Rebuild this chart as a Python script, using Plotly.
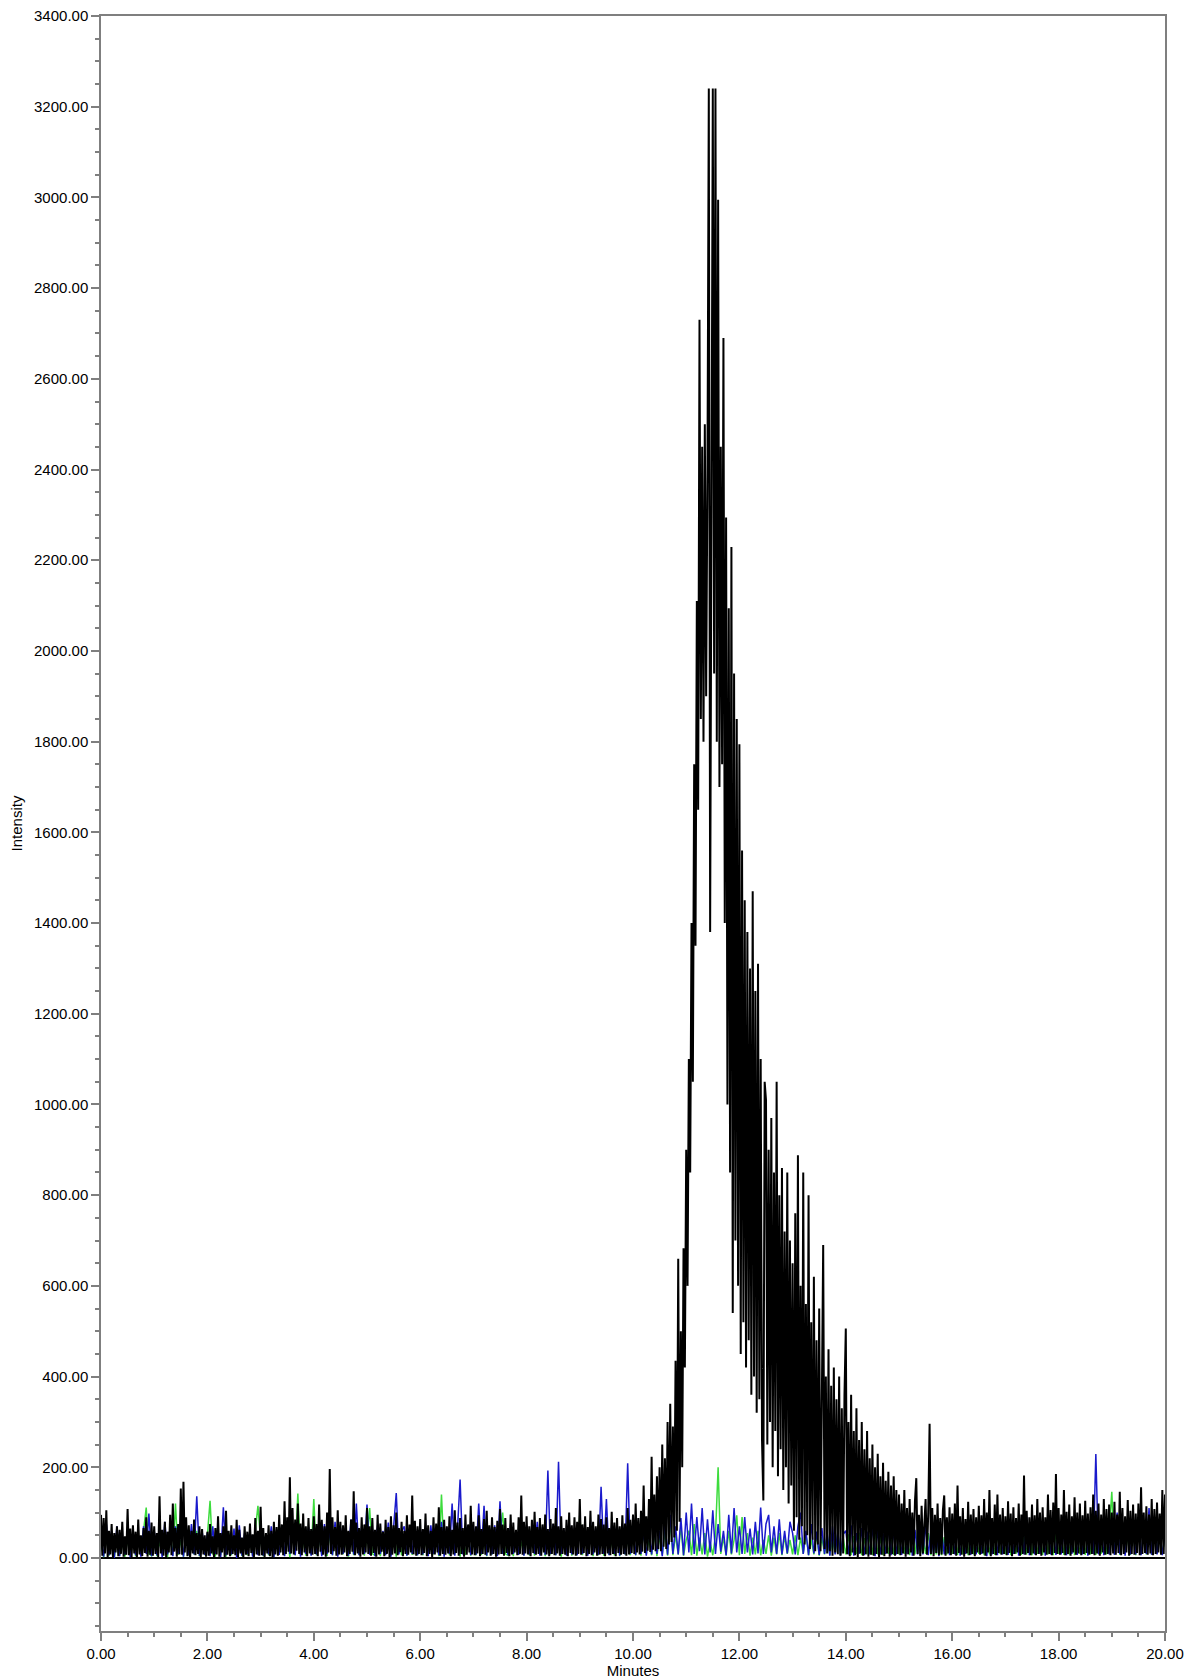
import plotly.graph_objects as go

# Chromatogram traces, intensities
black_step = 0.025  # minutes between black samples
black_intensity = [
    95, 5, 88, 10, 105, 2, 60, 8, 75, 0, 55, 12, 70, 4, 62, 9, 80, 3, 48, 7,               # 0.0
    108, 6, 65, 2, 72, 10, 58, 0, 85, 8, 50, 4, 66, 11, 90, 3, 60, 7, 78, 5,               # 0.5
    70, 9, 55, 2, 136, 10, 62, 5, 80, 0, 58, 12, 95, 6, 120, 14, 66, 3, 75, 8,             # 1.0
    153, 7, 168, 12, 90, 4, 72, 0, 60, 10, 85, 6, 55, 9, 70, 2, 64, 8, 50, 3,              # 1.5
    58, 5, 75, 10, 48, 0, 66, 8, 92, 3, 55, 12, 70, 2, 104, 7, 60, 4, 72, 9,               # 2.0
    50, 6, 84, 2, 62, 10, 45, 0, 70, 7, 58, 4, 76, 11, 52, 2, 88, 8, 60, 5,                # 2.5
    113, 6, 66, 2, 55, 10, 72, 4, 60, 0, 80, 8, 68, 5, 95, 12, 74, 6, 125, 9,              # 3.0
    90, 14, 178, 10, 110, 8, 85, 16, 120, 9, 76, 6, 98, 12, 70, 4, 88, 10, 64, 7,          # 3.5
    92, 9, 75, 4, 118, 14, 84, 7, 70, 3, 100, 12, 196, 9, 90, 15, 68, 5, 105, 8,           # 4.0
    80, 7, 72, 12, 94, 4, 60, 9, 85, 14, 147, 6, 78, 10, 66, 3, 90, 8, 74, 12,             # 4.5
    110, 9, 70, 5, 88, 11, 62, 3, 95, 8, 76, 14, 58, 4, 84, 9, 68, 0, 92, 7,               # 5.0
    72, 10, 100, 6, 66, 13, 80, 4, 60, 9, 94, 7, 74, 12, 138, 8, 82, 5, 70, 9,             # 5.5
    86, 6, 64, 11, 98, 4, 72, 9, 60, 2, 90, 8, 76, 12, 112, 5, 68, 9, 84, 7,               # 6.0
    70, 10, 92, 4, 62, 8, 105, 11, 78, 5, 88, 9, 66, 3, 96, 7, 74, 12, 115, 8,             # 6.5
    80, 6, 70, 10, 94, 4, 64, 9, 86, 7, 104, 12, 72, 5, 90, 9, 68, 3, 82, 8,               # 7.0
    108, 9, 74, 5, 88, 11, 66, 4, 96, 8, 78, 12, 62, 6, 90, 9, 138, 7, 80, 10,             # 7.5
    92, 8, 70, 4, 84, 11, 102, 7, 68, 9, 88, 5, 74, 12, 96, 8, 64, 4, 86, 9,               # 8.0
    76, 6, 110, 10, 70, 5, 92, 9, 66, 7, 84, 4, 100, 11, 72, 8, 90, 5, 80, 9,              # 8.5
    130, 7, 74, 11, 92, 4, 68, 9, 104, 6, 80, 12, 70, 5, 96, 8, 86, 9, 74, 4,              # 9.0
    90, 10, 66, 6, 102, 9, 78, 4, 88, 11, 70, 7, 94, 9, 76, 5, 110, 8, 84, 11,             # 9.5
    96, 9, 120, 12, 88, 8, 104, 14, 160, 11, 92, 16, 130, 13, 223, 18, 140, 15, 180, 20,   # 10.0
    200, 15, 250, 25, 220, 20, 300, 30, 340, 35, 290, 45, 435, 60, 660, 80, 500, 200, 683, 420,  # 10.5
    900, 600, 1100, 850, 1400, 1050, 1750, 1350, 2110, 1650, 2730, 1850, 2450, 1800, 2500, 1900, 2400, 3240, 1380, 2550,  # 11.0
    3240, 1950, 3240, 1800, 2995, 1700, 2450, 1750, 2690, 1400, 2294, 1000, 2094, 850, 2229, 540, 1950, 700, 1850, 600,  # 11.5
    1794, 450, 1560, 520, 1450, 420, 1380, 480, 1300, 360, 1470, 400, 1250, 320, 1310, 350, 1100, 260, 127, 1050,  # 12.0
    1010, 250, 900, 300, 970, 200, 850, 280, 1050, 180, 800, 240, 860, 150, 720, 200, 850, 120, 700, 160,  # 12.5
    650, 60, 760, 90, 888, 40, 600, 70, 850, 30, 560, 50, 800, 20, 520, 40, 620, 15, 480, 30,  # 13.0
    550, 15, 430, 690, 20, 400, 10, 460, 15, 380, 5, 420, 12, 350, 8, 400, 5, 330, 10, 360,  # 13.5
    506, 8, 300, 4, 360, 12, 280, 6, 330, 2, 260, 10, 300, 5, 240, 8, 280, 3, 220, 7,       # 14.0
    250, 5, 200, 9, 230, 2, 180, 7, 210, 4, 170, 10, 190, 3, 160, 8, 180, 5, 150, 9,        # 14.5
    140, 6, 120, 10, 150, 3, 110, 8, 130, 12, 100, 5, 125, 176, 9, 95, 4, 115, 10, 90,      # 15.0
    130, 7, 100, 296, 9, 110, 4, 95, 11, 120, 6, 88, 8, 105, 138, 5, 90, 10, 112, 6,        # 15.5
    98, 9, 120, 5, 160, 11, 92, 7, 110, 3, 86, 10, 124, 6, 96, 9, 108, 4, 90, 12,           # 16.0
    115, 7, 94, 10, 130, 5, 100, 12, 150, 4, 88, 9, 118, 6, 140, 11, 96, 7, 110, 9,         # 16.5
    92, 6, 125, 11, 98, 4, 112, 9, 88, 12, 120, 5, 96, 9, 182, 7, 104, 11, 90, 6,           # 17.0
    118, 10, 94, 6, 130, 9, 100, 5, 112, 12, 90, 7, 140, 9, 106, 6, 122, 11, 185, 9,        # 17.5
    110, 7, 96, 11, 150, 6, 102, 9, 118, 5, 92, 12, 134, 7, 100, 10, 120, 6, 94, 9,         # 18.0
    126, 11, 98, 7, 112, 9, 140, 6, 104, 10, 120, 5, 96, 12, 130, 7, 108, 9, 118, 6,        # 18.5
    100, 10, 124, 7, 96, 11, 146, 6, 110, 9, 92, 12, 128, 5, 104, 9, 118, 7, 98, 11,        # 19.0
    120, 6, 156, 9, 100, 11, 114, 7, 96, 10, 130, 6, 108, 9, 122, 12, 98, 7, 150, 9,        # 19.5
    140,                                                                                   # 20.0
]

color_step = 0.05  # minutes between blue / green samples
blue_intensity = [
    40, 3, 75, 6, 60, 0, 70, 4, 50, 8, 65, 2, 55, 6, 45, 3, 70, 9, 98, 4,          # 0
    60, 6, 55, 2, 80, 8, 50, 4, 70, 9, 65, 3, 58, 6, 75, 8, 136, 5, 60, 7,         # 1
    55, 4, 70, 9, 60, 2, 112, 6, 50, 8, 65, 0, 72, 5, 55, 9, 60, 3, 48, 6,         # 2
    62, 5, 50, 8, 70, 2, 58, 7, 66, 4, 80, 9, 55, 6, 72, 3, 60, 9, 68, 5,          # 3
    70, 8, 58, 4, 75, 9, 62, 6, 80, 3, 66, 9, 55, 5, 85, 8, 120, 6, 70, 9,         # 4
    118, 7, 65, 4, 72, 9, 60, 6, 78, 3, 68, 143, 8, 58, 70, 5, 62, 9, 75, 6,       # 5
    66, 8, 58, 4, 72, 9, 60, 6, 80, 3, 68, 9, 120, 5, 62, 173, 8, 70, 55, 6,       # 6
    70, 7, 120, 9, 115, 5, 65, 8, 72, 4, 125, 9, 60, 6, 75, 9, 58, 7, 70, 5,       # 7
    72, 8, 64, 9, 80, 5, 68, 7, 193, 9, 75, 6, 212, 9, 62, 5, 78, 8, 66, 6,        # 8
    70, 9, 62, 5, 80, 8, 66, 7, 157, 9, 130, 6, 72, 9, 64, 5, 76, 8, 209, 9,       # 9
    62, 6, 75, 9, 58, 5, 70, 8, 66, 9, 60, 4, 80, 7, 95, 9, 70, 8, 88, 6,          # 10
    100, 12, 120, 9, 90, 15, 110, 8, 85, 12, 105, 9, 75, 14, 60, 6, 95, 10, 110, 12,  # 11
    70, 9, 90, 12, 65, 8, 80, 10, 111, 9, 75, 95, 12, 70, 9, 85, 8, 60, 10, 80,    # 12
    55, 8, 70, 100, 9, 60, 6, 75, 10, 58, 7, 66, 9, 55, 5, 70, 8, 60, 6, 52,       # 13
    60, 8, 72, 5, 55, 9, 66, 6, 58, 8, 70, 4, 62, 8, 54, 9, 68, 6, 60, 8,          # 14
    65, 7, 58, 9, 70, 5, 62, 8, 55, 8, 74, 6, 60, 9, 66, 4, 58, 8, 72, 6,          # 15
    60, 8, 68, 5, 55, 9, 75, 7, 62, 8, 58, 9, 70, 4, 64, 8, 80, 6, 60, 8,          # 16
    66, 7, 58, 9, 72, 5, 62, 8, 90, 6, 65, 8, 70, 9, 58, 5, 75, 8, 62, 7,          # 17
    70, 8, 60, 6, 75, 9, 64, 7, 58, 8, 80, 5, 66, 9, 229, 8, 72, 6, 60, 8,         # 18
    68, 7, 100, 9, 62, 5, 75, 8, 58, 8, 70, 6, 64, 9, 110, 7, 66, 8, 60, 6,        # 19
    55,                                                                            # 20
]

green_intensity = [
    30, 2, 45, 5, 38, 0, 50, 6, 35, 3, 42, 5, 55, 4, 40, 8, 60, 111, 9, 5,         # 0
    45, 4, 38, 6, 55, 2, 48, 5, 120, 7, 40, 3, 52, 6, 35, 8, 60, 4, 44, 6,         # 1
    50, 126, 9, 5, 48, 7, 38, 3, 55, 6, 42, 8, 36, 4, 50, 6, 45, 5, 60, 115,       # 2
    40, 4, 55, 6, 35, 3, 60, 8, 42, 5, 48, 2, 52, 6, 142, 7, 40, 5, 58, 6,         # 3
    130, 6, 45, 7, 38, 4, 55, 6, 42, 5, 60, 8, 36, 3, 50, 6, 44, 7, 58, 5,         # 4
    48, 110, 9, 6, 52, 4, 40, 8, 58, 6, 45, 3, 62, 6, 38, 5, 55, 7, 42, 6,         # 5
    50, 6, 38, 5, 60, 8, 44, 4, 140, 6, 52, 6, 40, 8, 58, 3, 46, 7, 55, 5,         # 6
    42, 6, 56, 7, 38, 4, 60, 8, 45, 5, 52, 100, 9, 6, 58, 4, 48, 8, 36, 6,         # 7
    54, 6, 42, 5, 60, 7, 38, 4, 50, 8, 46, 6, 58, 3, 40, 7, 55, 5, 48, 6,          # 8
    95, 6, 44, 8, 52, 4, 40, 6, 58, 5, 46, 7, 38, 6, 60, 4, 50, 8, 42, 6,          # 9
    55, 6, 45, 5, 60, 8, 40, 6, 52, 4, 48, 7, 58, 5, 80, 6, 50, 8, 70, 5,          # 10
    40, 60, 6, 75, 5, 45, 8, 55, 3, 35, 6, 50, 200, 9, 45, 5, 60, 8, 40, 94,       # 11
    6, 90, 9, 55, 5, 45, 8, 60, 6, 40, 9, 50, 5, 45, 8, 55, 6, 48, 9, 40,          # 12
    8, 50, 6, 45, 9, 55, 6, 40, 8, 52, 5, 46, 8, 50, 6, 42, 9, 55, 6, 45,          # 13
    8, 52, 6, 48, 9, 56, 6, 44, 8, 50, 7, 60, 8, 46, 6, 54, 9, 48, 7, 58,          # 14
    8, 50, 9, 56, 6, 46, 8, 60, 7, 48, 9, 55, 6, 50, 8, 62, 6, 46, 8, 54,          # 15
    9, 58, 7, 48, 8, 55, 6, 64, 8, 50, 9, 56, 6, 48, 8, 60, 7, 52, 9, 46,          # 16
    8, 56, 6, 50, 9, 62, 7, 48, 8, 58, 6, 54, 9, 46, 7, 60, 8, 52, 6, 56,          # 17
    9, 50, 7, 58, 8, 64, 6, 48, 9, 56, 7, 52, 8, 60, 7, 50, 9, 58, 8, 54,          # 18
    146, 8, 52, 7, 60, 9, 48, 7, 56, 6, 62, 8, 50, 8, 58, 7, 54, 9, 48, 8,         # 19
    50,                                                                            # 20
]

assert len(black_intensity) == 801, len(black_intensity)
assert len(blue_intensity) == 401, len(blue_intensity)
assert len(green_intensity) == 401, len(green_intensity)

black_minutes = [round(i * black_step, 4) for i in range(len(black_intensity))]
blue_minutes = [round(i * color_step, 4) for i in range(len(blue_intensity))]
green_minutes = [round(i * color_step, 4) for i in range(len(green_intensity))]

FONT = "Liberation Sans, Arial, sans-serif"
AXIS_GREY = "#7f7f7f"

fig = go.Figure()
fig.add_trace(go.Scatter(x=green_minutes, y=green_intensity, mode="lines",
                         line=dict(color="#3ddc3d", width=1.5), showlegend=False, hoverinfo="skip"))
fig.add_trace(go.Scatter(x=blue_minutes, y=blue_intensity, mode="lines",
                         line=dict(color="#1a1acc", width=1.5), showlegend=False, hoverinfo="skip"))
fig.add_trace(go.Scatter(x=black_minutes, y=black_intensity, mode="lines",
                         line=dict(color="#000000", width=2), showlegend=False, hoverinfo="skip"))

fig.update_layout(
    width=1200, height=1679,
    margin=dict(l=101, r=35, t=16, b=48, autoexpand=False),
    paper_bgcolor="white", plot_bgcolor="white",
    font=dict(family=FONT, size=15, color="black"),
    showlegend=False,
)
fig.update_xaxes(
    range=[0, 20], tick0=0, dtick=2, tickformat=".2f",
    showgrid=False, zeroline=False,
    showline=True, linecolor=AXIS_GREY, linewidth=1.5, mirror=True,
    ticks="outside", ticklen=8, tickwidth=1.5, tickcolor=AXIS_GREY,
    minor=dict(dtick=0.5, ticks="outside", ticklen=4, tickwidth=1.5, tickcolor=AXIS_GREY, showgrid=False),
    title=dict(text="Minutes", standoff=2, font=dict(size=15)),
    automargin=False,
)
fig.update_yaxes(
    range=[-161, 3400], tick0=0, dtick=200, tickformat=".2f",
    showgrid=False, zeroline=True, zerolinecolor="#000000", zerolinewidth=2,
    showline=True, linecolor=AXIS_GREY, linewidth=1.5, mirror=True,
    ticks="outside", ticklen=8, tickwidth=1.5, tickcolor=AXIS_GREY,
    minor=dict(dtick=50, ticks="outside", ticklen=4, tickwidth=1.5, tickcolor=AXIS_GREY, showgrid=False),
    title=dict(text="Intensity", standoff=8, font=dict(size=15)),
    automargin=False,
)

fig.write_html("out.html")
